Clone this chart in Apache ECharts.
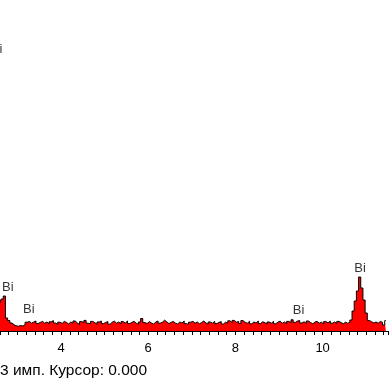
<!DOCTYPE html>
<html>
<head>
<meta charset="utf-8">
<script src="https://cdn.jsdelivr.net/npm/echarts@6/dist/echarts.min.js"></script>
<style>
html,body{margin:0;padding:0;background:#fff;overflow:hidden;width:390px;height:390px;position:relative}
#c{position:absolute;left:-3px;top:0;width:394px;height:390px}
</style>
</head>
<body>
<div id="c"></div>
<script>
// Spectrum channels: start energy (keV) and channel width (keV)
const channelStart = 2.60;
const channelWidth = 0.05;
// Counts per channel
const counts = [
  280, 320, 350, 130, 105, 80, 62, 52, 48, 55,
  50, 62, 88, 95, 78, 90, 100, 74, 86, 96,
  78, 90, 70, 92, 104, 80, 66, 88, 76, 96,
  86, 70, 90, 78, 100, 80, 64, 94, 84, 106,
  78, 72, 96, 84, 66, 90, 100, 74, 86, 94,
  68, 88, 98, 78, 90, 70, 94, 80, 100, 74,
  86, 96, 78, 66, 90, 125, 84, 74, 94, 80,
  70, 90, 100, 78, 88, 108, 92, 74, 86, 96,
  78, 70, 90, 80, 100, 74, 66, 88, 96, 78,
  90, 72, 84, 100, 80, 68, 90, 78, 96, 74,
  86, 94, 70, 88, 78, 102, 84, 106, 88, 96,
  74, 104, 86, 78, 98, 72, 90, 80, 100, 74,
  92, 84, 68, 90, 78, 96, 72, 88, 98, 78,
  90, 72, 96, 84, 112, 86, 100, 104, 80, 92,
  74, 100, 84, 72, 90, 96, 78, 88, 70, 94,
  80, 100, 78, 90, 74, 96, 84, 72, 88, 78,
  86, 110, 200, 300, 400, 540, 430, 310, 180, 105,
  92, 80, 90, 78, 96, 86, 60, 104
];
// Element line labels
const peakLabels = ['Bi', 'Bi', 'Bi', 'Bi', 'Bi'];
const peakEnergies = [2.52, 2.78, 3.26, 9.45, 10.86];
const peakLabelHeights = [2820, 440, 220, 210, 630];
// X tick labels shown
const tickLabels = [4, 6, 8, 10];
const statusText = '3 имп. Курсор: 0.000';

const spectrum = counts.map((c, i) => [+(channelStart + i * channelWidth).toFixed(3), c]);
const labelData = peakEnergies.map((e, i) => ({ value: [e, peakLabelHeights[i]], name: peakLabels[i] }));

const font = 'Liberation Sans, Arial, sans-serif';
const chart = echarts.init(document.getElementById('c'), null, { renderer: 'canvas' });
chart.setOption({
  animation: false,
  backgroundColor: '#fff',
  grid: { left: 0.12, right: 0.5, top: 1, bottom: 59, containLabel: false },
  xAxis: {
    type: 'value', min: 2.6, max: 11.5, interval: 0.2,
    axisLine: { show: true, lineStyle: { color: '#000', width: 1 } },
    axisTick: { show: true, length: 4, lineStyle: { color: '#000', width: 1 } },
    splitLine: { show: false },
    axisLabel: {
      color: '#000', fontSize: 13, fontFamily: font, margin: 11,
      formatter: v => {
        const r = Math.round(v);
        return (Math.abs(v - r) < 1e-6 && tickLabels.indexOf(r) >= 0) ? String(r) : '';
      }
    }
  },
  yAxis: { type: 'value', min: 0, max: 3300, show: false },
  series: [
    {
      type: 'line', data: spectrum, step: 'middle', symbol: 'none',
      lineStyle: { color: '#000', width: 1 },
      areaStyle: { color: '#ff0000', opacity: 1 },
      z: 2
    },
    {
      type: 'scatter', data: labelData, symbolSize: 1, clip: false,
      itemStyle: { color: 'transparent' },
      label: { show: true, position: 'inside', formatter: p => p.name, color: '#000', fontSize: 13, fontFamily: font },
      z: 3
    }
  ],
  graphic: [
    { type: 'text', left: 3, top: 363, style: { text: statusText, fill: '#000', font: '15.5px ' + font } }
  ]
});
</script>
</body>
</html>
